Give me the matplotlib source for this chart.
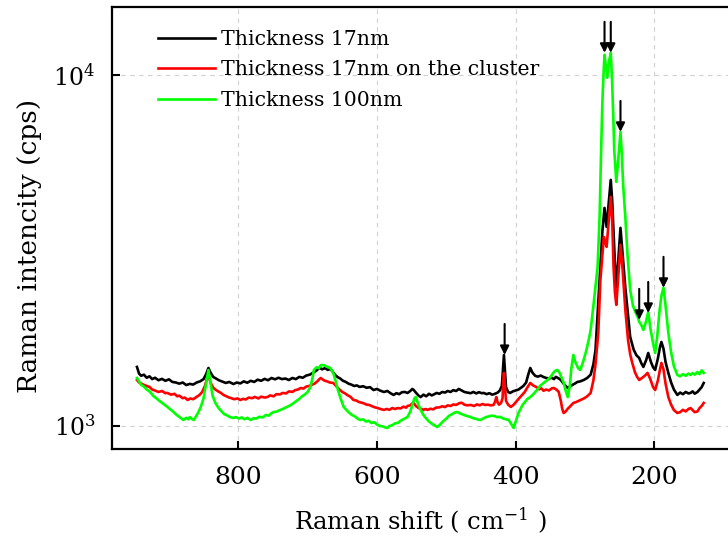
import numpy as np
import matplotlib
matplotlib.use('Agg')
import matplotlib.pyplot as plt

plt.rcParams['font.family'] = ['DejaVu Serif']
plt.rcParams['mathtext.fontset'] = 'dejavuserif'

# Raman shift (cm-1) and intensity (cps)
# --- Thickness 17nm
x_17 = [946, 943, 940, 936, 932, 928, 924, 920, 915, 910, 905, 900, 895, 890, 885, 880, 875, 870, 865, 860,
        855, 850, 846, 843, 840, 836, 832, 828, 823, 818, 813, 807, 802, 797, 792, 787, 782, 777, 772, 767,
        762, 757, 752, 747, 742, 737, 732, 727, 722, 717, 712, 707, 702, 697, 692, 687, 683, 679, 675, 671,
        667, 663, 660, 657, 653, 649, 645, 641, 637, 633, 629, 625, 620, 615, 610, 605, 600, 595, 590, 585,
        580, 576, 572, 568, 564, 560, 556, 552, 549, 547, 544, 540, 537, 533, 529, 525, 521, 518, 514, 510,
        506, 502, 498, 494, 490, 486, 482, 478, 474, 470, 465, 461, 457, 453, 449, 446, 442, 438, 434, 430,
        426, 423, 420, 418, 417, 416, 414, 411, 408, 404, 400, 396, 393, 389, 385, 382, 379, 376, 372, 368,
        364, 360, 356, 352, 348, 345, 342, 340, 337, 335, 331, 328, 325, 321, 318, 315, 311, 307, 302, 297,
        292, 288, 285, 278, 275, 272, 269, 266, 263, 261, 259, 257, 255, 252, 249, 246, 242, 238, 235, 230,
        226, 222, 219, 216, 212, 209, 205, 202, 199, 195, 192, 190, 187, 184, 180, 176, 172, 167, 163, 159,
        155, 151, 148, 145, 142, 138, 135, 132, 129]
y_17 = [1473, 1410, 1390, 1400, 1372, 1385, 1360, 1372, 1350, 1362, 1345, 1358, 1335, 1330, 1320, 1330, 1308, 1318, 1312, 1330,
        1340, 1360, 1410, 1463, 1420, 1379, 1365, 1350, 1338, 1326, 1335, 1317, 1330, 1322, 1340, 1328, 1345, 1335, 1355, 1345,
        1362, 1350, 1370, 1358, 1372, 1360, 1365, 1352, 1370, 1360, 1380, 1372, 1392, 1400, 1418, 1440, 1465, 1450, 1462, 1445,
        1454, 1420, 1395, 1379, 1365, 1345, 1335, 1320, 1312, 1300, 1305, 1292, 1298, 1285, 1290, 1266, 1275, 1260, 1250, 1258,
        1238, 1226, 1240, 1232, 1248, 1250, 1242, 1258, 1275, 1266, 1245, 1220, 1209, 1228, 1215, 1235, 1222, 1230, 1242, 1235,
        1250, 1245, 1258, 1250, 1265, 1258, 1275, 1262, 1250, 1245, 1240, 1250, 1238, 1248, 1240, 1242, 1232, 1240, 1228, 1235,
        1245, 1262, 1300, 1500, 1593, 1480, 1290, 1250, 1242, 1255, 1262, 1270, 1283, 1300, 1330, 1400, 1463, 1420, 1390, 1382,
        1392, 1379, 1370, 1365, 1372, 1360, 1380, 1373, 1362, 1352, 1320, 1300, 1283, 1300, 1310, 1320, 1335, 1340, 1352, 1370,
        1400, 1500, 1646, 2838, 3600, 4179, 3690, 4300, 5022, 4400, 3548, 2900, 2489, 3000, 3666, 3100, 2474, 2050, 1793, 1650,
        1590, 1562, 1510, 1473, 1540, 1614, 1520, 1470, 1444, 1560, 1680, 1735, 1660, 1520, 1416, 1330, 1270, 1226, 1245, 1232,
        1250, 1238, 1242, 1255, 1236, 1250, 1270, 1290, 1326]

# --- Thickness 17nm on the cluster
x_cl = [946, 943, 940, 936, 932, 928, 924, 920, 915, 910, 905, 902, 897, 892, 888, 885, 880, 877, 873, 869,
        865, 860, 856, 852, 848, 845, 843, 840, 836, 833, 829, 825, 821, 817, 813, 810, 806, 801, 797, 793,
        789, 785, 780, 776, 771, 767, 762, 758, 754, 749, 745, 740, 736, 731, 727, 722, 718, 714, 710, 706,
        702, 698, 694, 690, 686, 683, 681, 678, 675, 672, 668, 663, 659, 655, 650, 646, 642, 638, 634, 630,
        626, 622, 618, 615, 611, 607, 603, 599, 595, 590, 586, 582, 578, 574, 570, 566, 562, 558, 556, 552,
        549, 547, 544, 540, 537, 533, 530, 527, 523, 519, 515, 510, 506, 502, 498, 494, 490, 486, 482, 478,
        474, 470, 465, 460, 456, 452, 448, 444, 440, 436, 432, 430, 428, 426, 424, 421, 419, 418, 417, 416,
        414, 411, 407, 403, 399, 395, 391, 387, 383, 379, 375, 370, 366, 363, 360, 356, 352, 348, 345, 341,
        338, 335, 333, 331, 328, 325, 321, 317, 313, 309, 305, 301, 297, 292, 288, 285, 281, 278, 275, 273,
        271, 269, 266, 263, 261, 259, 257, 255, 252, 249, 246, 242, 238, 235, 232, 228, 225, 222, 218, 214,
        210, 206, 202, 199, 195, 192, 190, 187, 184, 180, 176, 172, 167, 163, 159, 155, 151, 148, 145, 142,
        138, 135, 132, 129]
y_cl = [1352, 1330, 1320, 1310, 1300, 1292, 1270, 1262, 1250, 1258, 1240, 1242, 1228, 1235, 1215, 1220, 1200, 1205, 1186, 1198,
        1192, 1210, 1225, 1250, 1300, 1370, 1397, 1330, 1285, 1270, 1255, 1242, 1225, 1215, 1205, 1200, 1192, 1198, 1186, 1195,
        1190, 1205, 1200, 1210, 1198, 1212, 1205, 1209, 1222, 1215, 1232, 1230, 1242, 1238, 1255, 1250, 1265, 1270, 1283, 1278,
        1295, 1300, 1310, 1320, 1340, 1360, 1370, 1355, 1345, 1340, 1330, 1326, 1300, 1275, 1250, 1238, 1222, 1210, 1186, 1182,
        1170, 1165, 1158, 1150, 1148, 1138, 1130, 1125, 1118, 1111, 1118, 1112, 1125, 1118, 1125, 1122, 1135, 1128, 1140, 1145,
        1160, 1163, 1140, 1125, 1120, 1112, 1118, 1111, 1120, 1115, 1128, 1130, 1138, 1132, 1145, 1140, 1152, 1148, 1160, 1165,
        1150, 1145, 1148, 1140, 1152, 1145, 1155, 1148, 1150, 1145, 1148, 1170, 1209, 1165, 1150, 1165, 1200, 1330, 1416, 1330,
        1180, 1150, 1133, 1150, 1175, 1200, 1225, 1250, 1290, 1326, 1305, 1290, 1272, 1280, 1260, 1270, 1262, 1280, 1283, 1268,
        1250, 1180, 1120, 1089, 1100, 1120, 1140, 1163, 1170, 1180, 1190, 1200, 1215, 1242, 1350, 1500, 1841, 2600, 3100, 3455,
        3350, 3236, 3800, 4492, 3900, 2838, 2400, 2212, 2700, 3279, 2800, 2141, 1750, 1600, 1512, 1420, 1380, 1352, 1370, 1390,
        1416, 1360, 1290, 1266, 1350, 1450, 1512, 1450, 1320, 1209, 1150, 1110, 1089, 1095, 1112, 1100, 1118, 1125, 1110, 1095,
        1100, 1125, 1140, 1163]

# --- Thickness 100nm
x_100 = [946, 943, 940, 936, 932, 928, 926, 922, 918, 914, 910, 906, 902, 898, 894, 890, 886, 882, 879, 875,
         872, 870, 867, 864, 861, 858, 854, 850, 847, 843, 840, 837, 833, 829, 825, 820, 816, 812, 807, 803,
         799, 795, 791, 787, 782, 778, 774, 770, 765, 760, 756, 752, 749, 745, 740, 736, 731, 727, 722, 720,
         716, 712, 708, 704, 700, 696, 693, 691, 687, 684, 681, 677, 674, 670, 667, 663, 660, 656, 652, 648,
         644, 640, 636, 632, 628, 624, 620, 616, 612, 608, 604, 600, 596, 592, 588, 585, 582, 578, 574, 570,
         566, 562, 559, 556, 552, 549, 546, 544, 541, 537, 533, 529, 525, 521, 517, 513, 509, 505, 500, 496,
         492, 488, 484, 480, 476, 472, 468, 465, 461, 457, 454, 451, 447, 443, 439, 435, 431, 427, 422, 418,
         414, 410, 406, 403, 400, 396, 392, 390, 386, 383, 379, 375, 371, 368, 365, 361, 358, 354, 350, 347,
         345, 342, 340, 337, 335, 331, 328, 325, 322, 320, 317, 314, 310, 307, 303, 299, 295, 292, 288, 285,
         282, 279, 277, 275, 273, 272, 270, 268, 266, 263, 261, 259, 258, 256, 255, 252, 249, 247, 245, 242,
         239, 235, 231, 227, 224, 222, 219, 216, 212, 209, 206, 202, 199, 196, 193, 190, 187, 184, 180, 176,
         172, 167, 163, 159, 155, 151, 148, 145, 142, 138, 135, 132, 129]
y_100 = [1370, 1340, 1310, 1295, 1270, 1255, 1242, 1215, 1200, 1180, 1165, 1148, 1133, 1115, 1100, 1080, 1065, 1050, 1040, 1055,
         1045, 1060, 1048, 1040, 1065, 1090, 1133, 1200, 1300, 1444, 1330, 1220, 1163, 1130, 1105, 1080, 1072, 1060, 1054, 1060,
         1050, 1058, 1045, 1055, 1040, 1052, 1050, 1062, 1058, 1075, 1070, 1088, 1096, 1098, 1110, 1118, 1130, 1140, 1155, 1163,
         1180, 1195, 1215, 1230, 1250, 1290, 1370, 1444, 1470, 1460, 1490, 1492, 1480, 1470, 1460, 1416, 1350, 1260, 1190, 1133,
         1110, 1090, 1075, 1065, 1050, 1040, 1045, 1030, 1035, 1020, 1025, 1010, 1000, 998, 990, 987, 1000, 1005, 1018, 1020,
         1035, 1045, 1052, 1061, 1100, 1150, 1200, 1209, 1160, 1111, 1075, 1050, 1030, 1015, 1005, 993, 1010, 1030, 1050, 1070,
         1080, 1092, 1096, 1085, 1078, 1070, 1065, 1060, 1052, 1048, 1042, 1040, 1050, 1060, 1065, 1070, 1068, 1060, 1061, 1050,
         1045, 1040, 1010, 987, 1030, 1090, 1130, 1150, 1175, 1195, 1209, 1230, 1255, 1275, 1300, 1320, 1335, 1352, 1380, 1405,
         1425, 1440, 1444, 1420, 1390, 1330, 1260, 1209, 1300, 1450, 1593, 1520, 1460, 1444, 1520, 1620, 1750, 1877, 2200, 2500,
         2838, 4000, 6000, 8489, 10500, 11403, 10600, 9806, 10800, 11554, 9500, 7200, 6113, 5300, 4957, 5800, 6879, 5900, 4800, 3939,
         3100, 2441, 2200, 2099, 2040, 1979, 1940, 1877, 1990, 2113, 1900, 1720, 1614, 1800, 2100, 2350, 2474, 2200, 1841, 1620,
         1480, 1397, 1385, 1405, 1390, 1410, 1397, 1415, 1400, 1425, 1405, 1440, 1416]

# arrows: position (cm-1) and intensity at the arrow tip
arrow_x = [272, 263, 249, 222, 209, 187, 416]
arrow_y = [11554, 11554, 6879, 2005, 2099, 2474, 1593]

labels = ['Thickness 17nm', 'Thickness 17nm on the cluster', 'Thickness 100nm']
colors = ['#000000', '#ff0000', '#00ff00']

fig = plt.figure(figsize=(7.28, 5.40), dpi=100)
ax = fig.add_axes([112/728, 91/540, 616/728, 442/540])

ax.plot(x_17, y_17, color=colors[0], lw=1.9, label=labels[0])
ax.plot(x_cl, y_cl, color=colors[1], lw=1.9, label=labels[1])
ax.plot(x_100, y_100, color=colors[2], lw=1.9, label=labels[2])

for xa, ya in zip(arrow_x, arrow_y):
    ax.annotate('', xy=(xa, ya), xytext=(0, 31), textcoords='offset pixels',
                arrowprops=dict(arrowstyle='-|>', color='k', lw=1.5, mutation_scale=13,
                                shrinkA=0, shrinkB=0))

ax.set_yscale('log')
ax.set_xlim(982, 94)
ax.set_ylim(860, 15600)
ax.set_xticks([800, 600, 400, 200])
ax.set_yticks([1e3, 1e4])
ax.minorticks_off()
ax.tick_params(direction='in', length=6, width=1.5)
ax.tick_params(axis='x', labelsize=18, pad=12)
ax.tick_params(axis='y', labelsize=17, pad=12)
ax.grid(True, color='#d0d0d0', linestyle=(0, (4, 4)), lw=0.8)
ax.set_axisbelow(True)
for s in ['left', 'bottom', 'top']:
    ax.spines[s].set_linewidth(1.6)
ax.spines['right'].set_visible(False)

ax.set_xlabel('Raman shift ( cm$^{-1}$ )', fontsize=17.5)
ax.set_ylabel('Raman intencity (cps)', fontsize=19)
ax.xaxis.set_label_coords(0.5, -0.128)
ax.yaxis.set_label_coords(-0.113, 0.459)

ax.legend(loc='upper left', bbox_to_anchor=(0.062, 0.966), frameon=False, fontsize=14.7,
          handlelength=2.75, handletextpad=0.3, labelspacing=0.55, borderaxespad=0)

fig.savefig('out.png', dpi=100)
